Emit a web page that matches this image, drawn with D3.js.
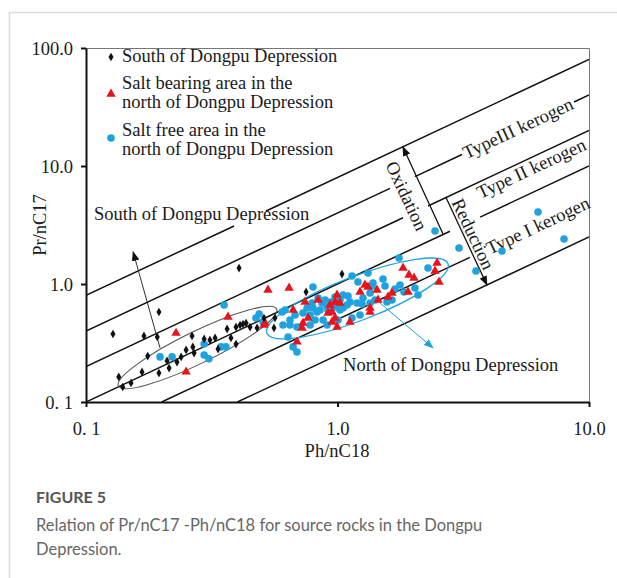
<!DOCTYPE html>
<html><head><meta charset="utf-8">
<script src="https://cdn.jsdelivr.net/npm/d3@7"></script>
<style>body{margin:0;background:#fff} svg{display:block}</style>
</head><body><svg id="c" width="617" height="578"></svg>
<script>
// ---------- data (Ph/nC18, Pr/nC17) ----------
const xTickValues = [0.1, 1, 10];
const xTickLabels = ["0. 1", "1.0", "10.0"];
const yTickValues = [0.1, 1, 10, 100];
const yTickLabels = ["0. 1", "1.0", "10.0", "100.0"];

const southDepression = [
[0.406,1.366],[0.195,0.579],[0.128,0.377],[0.170,0.363],[0.192,0.356],[0.176,0.245],[0.135,0.163],[0.140,0.134],[0.151,0.145],[0.167,0.180],[0.195,0.176],[0.214,0.194],[0.210,0.223],[0.230,0.218],[0.239,0.241],[0.250,0.276],[0.269,0.260],[0.264,0.363],[0.266,0.293],[0.295,0.342],[0.311,0.335],[0.326,0.349],[0.335,0.281],[0.364,0.416],[0.377,0.349],[0.395,0.310],[0.395,0.432],[0.410,0.449],[0.421,0.458],[0.433,0.467],[0.449,0.432],[0.479,0.424],[0.510,0.515],[0.564,0.515],[0.559,0.424],[0.750,0.856],[1.042,1.215]
];
const saltBearingNorth = [
[0.228,0.384],[0.250,0.180],[0.367,0.525],[0.529,0.890],[0.642,0.925],[0.510,0.449],
[2.487,1.507],[1.822,1.366],[1.924,1.192],[2.015,1.124],[2.442,1.289],[2.533,1.040],[1.286,0.981],[1.229,0.856],[1.322,0.943],[1.436,0.890],[1.647,0.839],[1.907,0.856],[0.996,0.807],[0.978,0.704],[0.934,0.664],[0.837,0.732],[0.917,0.568],[0.951,0.579],[0.978,0.515],[0.951,0.476],[0.996,0.432],[0.729,0.467],[0.723,0.424],[0.763,0.515],[0.666,0.602],[0.743,0.704],[1.121,0.476],[1.347,0.626],[1.347,0.579],[1.449,0.732],[1.588,0.776],[0.690,0.323],[0.515,0.467],[1.023,0.690]
];
const saltFreeNorth = [
[0.354,0.664],[0.474,0.515],[0.488,0.557],[0.197,0.241],[0.220,0.241],[0.295,0.310],[0.295,0.250],[0.308,0.232],[0.344,0.293],[0.360,0.293],
[1.756,1.661],[2.290,1.366],[1.142,1.169],[1.206,1.040],[1.517,1.102],[1.384,1.020],[1.545,0.962],[1.693,0.907],[1.772,0.981],[1.838,0.856],[2.033,0.925],[2.090,0.807],[1.347,0.839],[1.101,0.791],[1.263,0.761],[1.023,0.732],[1.121,0.704],[1.196,0.690],[1.252,0.677],[1.347,0.690],[1.410,0.732],[1.573,0.704],[1.647,0.732],[0.837,0.761],[0.892,0.732],[0.792,0.690],[0.799,0.626],[0.829,0.579],[0.852,0.602],[0.909,0.638],[0.951,0.626],[0.996,0.638],[1.052,0.626],[1.091,0.664],[0.757,0.626],[0.729,0.568],[0.778,0.546],[0.678,0.546],[0.647,0.495],[0.619,0.602],[0.607,0.449],[0.647,0.449],[0.690,0.432],[0.778,0.449],[0.909,0.449],[1.005,0.495],[1.142,0.515],[1.229,0.546],[0.876,0.495],[0.814,0.495],[0.602,0.579],[0.506,0.476],[0.636,0.356],[0.666,0.293],[0.690,0.265],[0.799,0.943],[0.978,0.776],[1.052,0.807],[1.322,1.240],[1.372,0.962],[0.868,0.690],[0.934,0.704],[0.978,0.677],[0.917,0.602],[1.023,0.602],
[2.442,2.813],[3.042,2.018],[3.554,1.289],[4.508,1.904],[6.27,4.074],[7.955,2.404]
];
// Pr/nC17 = k * Ph/nC18 reference lines, drawn over the Ph/nC18 ranges listed
const ratioLines = [
  {k: 8,    segs: [[0.1, 0.388], [0.52, 10]]},
  {k: 4,    segs: [[0.1, 1.617], [2.033, 3.126], [8.72, 10]]},
  {k: 2,    segs: [[0.1, 1.822], [2.29, 10]]},
  {k: 1,    segs: [[0.1, 2.80], [3.69, 10]]},
  {k: 0.5,  segs: [[0.2, 3.36]]},
  {k: 0.25, segs: [[0.4, 10]]}
];
const legendLabels = [
  ["South of Dongpu Depression"],
  ["Salt bearing area in the", "north of Dongpu Depression"],
  ["Salt free area in the", "north of Dongpu Depression"]
];
const captionTitle = "FIGURE 5";
const captionLines = ["Relation of Pr/nC17 -Ph/nC18 for source rocks in the Dongpu", "Depression."];

// ---------- drawing ----------
const SERIF = "'Liberation Serif','Times New Roman',serif";
const FS = 18.5;
const RED = "#e8131b", BLUE = "#1ea2e0";
const svg = d3.select("#c");
const x = d3.scaleLog().domain([0.1, 10]).range([86, 589]);
const y = d3.scaleLog().domain([0.1, 100]).range([402, 48]);
const P = d => [x(d[0]), y(d[1])];

// page frame
svg.append("path").attr("d", "M9.5,578V12.5H617").attr("fill", "none")
  .attr("stroke", "#dcdcdc").attr("stroke-width", 1.5);

const defs = svg.append("defs");
function marker(id, col) {
  defs.append("marker").attr("id", id).attr("viewBox", "0 0 10 10")
    .attr("refX", 9).attr("refY", 5).attr("markerWidth", 10).attr("markerHeight", 10)
    .attr("markerUnits", "userSpaceOnUse").attr("orient", "auto")
    .append("path").attr("d", "M0,1.2L10,5L0,8.8z").attr("fill", col);
}
marker("ab", "#111"); marker("ablue", BLUE);
defs.append("clipPath").attr("id", "plot").append("rect")
  .attr("x", 86).attr("y", 48).attr("width", 503).attr("height", 354);

// top/right frame
svg.append("path").attr("d", "M86,48.5H589.5V402").attr("fill", "none")
  .attr("stroke", "#777").attr("stroke-width", 1);

// ratio lines
const gl = svg.append("g").attr("clip-path", "url(#plot)");
ratioLines.forEach(L => L.segs.forEach(s => {
  gl.append("line").attr("x1", x(s[0])).attr("y1", y(L.k * s[0]))
    .attr("x2", x(s[1])).attr("y2", y(L.k * s[1]))
    .attr("stroke", "#111").attr("stroke-width", 1.5);
}));
const ang = Math.atan2(y(10) - y(1), x(10) - x(1)) * 180 / Math.PI;

function rtext(px, py, rot, str, opt = {}) {
  return svg.append("text").attr("transform", `translate(${px},${py}) rotate(${rot})`)
    .attr("text-anchor", opt.anchor || "middle").attr("dy", opt.dy || 0)
    .attr("font-family", SERIF).attr("font-size", opt.size || FS).attr("fill", "#1a1a1a").text(str);
}
// kerogen labels
(function () {
  let p = P([5.22, 4 * 5.22]); rtext(p[0], p[1], ang, "TypeIII kerogen", {dy: "0.33em"});
  p = P([6.04, 8.555]); rtext(p[0], p[1], ang, "Type II kerogen");
  p = P([6.27, 0.5 * 6.27]); rtext(p[0], p[1], ang, "Type I kerogen", {dy: "0.33em"});
})();

// oxidation / reduction arrows
function arrow(a, b, col, mk, w) {
  const pa = P(a), pb = P(b);
  svg.append("line").attr("x1", pa[0]).attr("y1", pa[1]).attr("x2", pb[0]).attr("y2", pb[1])
    .attr("stroke", col).attr("stroke-width", w).attr("marker-end", `url(#${mk})`);
}
arrow([2.628, 2.653], [1.82, 14.5], "#111", "ab", 1.3);
arrow([2.70, 5.4], [3.93, 0.98], "#111", "ab", 1.3);
const perpAng = 90 + ang;
(function () {
  let p = P([1.88, 5.569]); rtext(p[0], p[1], perpAng, "Oxidation", {dy: "0.33em"});
  p = P([3.458, 2.653]); rtext(p[0], p[1], perpAng, "Reduction", {dy: "0.33em"});
})();

// ellipses
function ell(c, rx, ry, rot, col, w) {
  const p = P(c);
  svg.append("ellipse").attr("transform", `translate(${p[0]},${p[1]}) rotate(${rot})`)
    .attr("rx", rx).attr("ry", ry).attr("fill", "none").attr("stroke", col).attr("stroke-width", w);
}
ell([0.2776, 0.2897], 88, 16, -26, "#555", 1.1);
ell([1.201, 0.754], 97, 22, -21, BLUE, 1.3);

// group arrows
arrow([0.197, 0.287], [0.154, 1.87], "#333", "ab", 1);
arrow([1.476, 0.690], [2.398, 0.287], BLUE, "ablue", 1);

// points
const gp = svg.append("g");
gp.selectAll("circle.sf").data(saltFreeNorth).join("circle")
  .attr("cx", d => x(d[0])).attr("cy", d => y(d[1])).attr("r", 3.8).attr("fill", BLUE);
const tri = d3.symbol().type(d3.symbolTriangle).size(38);
gp.selectAll("path.sb").data(saltBearingNorth).join("path").attr("class", "sb")
  .attr("d", tri).attr("transform", d => `translate(${x(d[0])},${y(d[1])})`).attr("fill", RED);
const dia = d3.symbol().type(d3.symbolDiamond).size(22);
gp.selectAll("path.sd").data(southDepression).join("path").attr("class", "sd")
  .attr("d", dia).attr("transform", d => `translate(${x(d[0])},${y(d[1])})`).attr("fill", "#111");

// group labels
(function () {
  let p = P([0.1076, 3.487]); rtext(p[0], p[1], 0, "South of Dongpu Depression", {anchor: "start"});
  p = P([1.052, 0.1831]); rtext(p[0], p[1], 0, "North of Dongpu Depression", {anchor: "start"});
})();

// axes
const gx = svg.append("g").attr("transform", "translate(0,402)")
  .call(d3.axisBottom(x).tickValues(xTickValues).tickFormat((d, i) => xTickLabels[i])
    .tickSize(5).tickSizeOuter(0).tickPadding(15));
const gy = svg.append("g").attr("transform", "translate(86,0)")
  .call(d3.axisLeft(y).tickValues(yTickValues).tickFormat((d, i) => yTickLabels[i])
    .tickSize(5).tickSizeOuter(0).tickPadding(8));
[gx, gy].forEach(g => {
  g.select(".domain").attr("stroke", "#111").attr("stroke-width", 2);
  g.selectAll(".tick line").attr("stroke", "#111").attr("stroke-width", 2);
  g.selectAll("text").attr("font-family", SERIF).attr("font-size", FS).attr("fill", "#1a1a1a");
});
gy.selectAll("text").attr("dy", "0.33em");
svg.append("text").attr("x", 337).attr("y", 457).attr("text-anchor", "middle")
  .attr("font-family", SERIF).attr("font-size", FS).attr("fill", "#1a1a1a").text("Ph/nC18");
svg.append("text").attr("transform", "translate(46,225) rotate(-90)").attr("text-anchor", "middle")
  .attr("font-family", SERIF).attr("font-size", FS).attr("fill", "#1a1a1a").text("Pr/nC17");

// legend
const lg = svg.append("g").attr("font-family", SERIF).attr("font-size", FS).attr("fill", "#1a1a1a");
const legY = [[62], [89, 108], [136, 155]];
const legM = [57, 94, 138];
lg.append("path").attr("d", dia).attr("transform", `translate(111,${legM[0]})`).attr("fill", "#111");
lg.append("path").attr("d", tri).attr("transform", `translate(111,${legM[1]})`).attr("fill", RED);
lg.append("circle").attr("cx", 111).attr("cy", legM[2]).attr("r", 3.8).attr("fill", BLUE);
legendLabels.forEach((ls, i) => ls.forEach((t, j) => {
  lg.append("text").attr("x", 122).attr("y", legY[i][j]).text(t);
}));

// caption
svg.append("text").attr("x", 36).attr("y", 503).attr("font-family", "Lato,'Open Sans',sans-serif")
  .attr("font-size", 16).attr("font-weight", 700).attr("fill", "#555").text(captionTitle);
captionLines.forEach((t, i) => svg.append("text").attr("x", 36).attr("y", 531 + i * 24)
  .attr("font-family", "Lato,'Open Sans',sans-serif").attr("font-size", 16.5).attr("fill", "#666").text(t));
</script></body></html>
